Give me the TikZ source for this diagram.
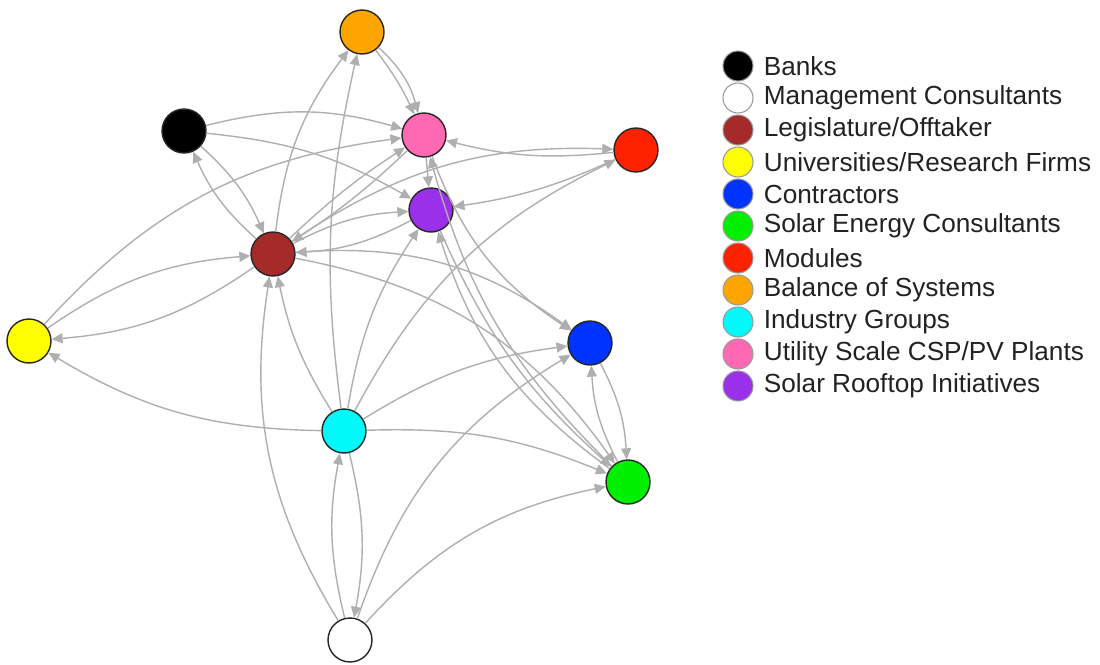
\documentclass[tikz,border=0pt]{standalone}
\usepackage{fontspec}
\setmainfont{Liberation Sans}
\usetikzlibrary{arrows.meta,positioning}
\definecolor{tiegray}{RGB}{175,175,175}
\definecolor{keyink}{RGB}{34,34,34}
\definecolor{cBrown}{RGB}{165,42,42}
\definecolor{cBlue}{RGB}{0,51,255}
\definecolor{cGreen}{RGB}{0,240,0}
\definecolor{cRed}{RGB}{255,34,0}
\definecolor{cOrange}{RGB}{255,165,0}
\definecolor{cCyan}{RGB}{0,250,250}
\definecolor{cYellow}{RGB}{255,255,0}
\definecolor{cPink}{RGB}{255,105,180}
\definecolor{cPurple}{RGB}{155,48,235}
\begin{document}
\begin{tikzpicture}[x=0.02cm, y=0.02cm,
    actor/.style={circle, draw=black!85, line width=0.8pt, minimum size=0.88cm, inner sep=0pt},
    keydot/.style={circle, draw=black!40, line width=0.6pt, minimum size=0.6cm, inner sep=0pt},
    keytext/.style={inner sep=0pt, text=keyink, font=\fontsize{14.9}{17}\selectfont},
    tie/.style={draw=tiegray, line width=0.8pt, -{Triangle[length=0.22cm, width=0.2cm]}}]
    \useasboundingbox (0,0) rectangle (1100,-664);
    % actors
    \node[actor, fill=cOrange] (bos) at (362,-32) {};
    \node[actor, fill=black] (banks) at (184,-131) {};
    \node[actor, fill=cPink] (util) at (424,-135) {};
    \node[actor, fill=cRed] (mod) at (636,-150) {};
    \node[actor, fill=cPurple] (roof) at (431,-210) {};
    \node[actor, fill=cBrown] (legis) at (273,-254) {};
    \node[actor, fill=cYellow] (univ) at (29,-341) {};
    \node[actor, fill=cBlue] (contr) at (590,-343) {};
    \node[actor, fill=cCyan] (ind) at (344,-431) {};
    \node[actor, fill=cGreen] (sec) at (628,-482) {};
    \node[actor, fill=white] (mgmt) at (350,-640) {};
    % ties
    \draw[tie] (banks) to[bend left=15] (util);
    \draw[tie] (banks) to[bend left=12] (roof);
    \draw[tie] (banks) to[bend left=12] (legis);
    \draw[tie] (legis) to[bend left=12] (banks);
    \draw[tie] (bos) to[bend left=6] (util);
    \draw[tie] (bos) to[bend left=16] (util);
    \draw[tie] (legis) to[bend left=15] (bos);
    \draw[tie] (ind) to[bend left=10] (bos);
    \draw[tie] (ind) to[bend left=10] (legis);
    \draw[tie] (mgmt) to[bend left=20] (legis);
    \draw[tie] (mgmt) to[bend left=12] (ind);
    \draw[tie] (ind) to[bend left=12] (mgmt);
    \draw[tie] (mgmt) to[bend left=20] (contr);
    \draw[tie] (mgmt) to[bend left=18] (sec);
    \draw[tie] (ind) to[bend left=12] (contr);
    \draw[tie] (ind) to[bend left=12] (sec);
    \draw[tie] (ind) to[bend left=15] (univ);
    \draw[tie] (ind) to[bend left=12] (roof);
    \draw[tie] (ind) to[bend left=18] (mod);
    \draw[tie] (legis) to[bend left=20] (contr);
    \draw[tie] (legis) to[bend left=22] (sec);
    \draw[tie] (legis) to[bend left=5] (util);
    \draw[tie] (util) to[bend left=5] (legis);
    \draw[tie] (legis) to[bend left=12] (roof);
    \draw[tie] (roof) to[bend left=12] (legis);
    \draw[tie] (univ) to[bend left=15] (legis);
    \draw[tie] (legis) to[bend left=15] (univ);
    \draw[tie] (univ) to[bend left=20] (util);
    \draw[tie] (util) -- (roof);
    \draw[tie] (mod) to[bend left=10] (util);
    \draw[tie] (legis) to[bend left=18] (mod);
    \draw[tie] (mod) to[bend left=8] (roof);
    \draw[tie] (util) to[bend right=18] (contr);
    \draw[tie] (sec) to[bend left=15] (util);
    \draw[tie] (roof) to[bend right=12] (sec);
    \draw[tie] (sec) to[bend left=18] (roof);
    \draw[tie] (contr) to[bend left=12] (sec);
    \draw[tie] (sec) to[bend left=12] (contr);
    % legend
    \node[keydot, fill=black] (kBanks) at (738,-66) {};
    \node[keytext, right=0.2cm of kBanks] {Banks};
    \node[keydot, fill=white] (kMgmt) at (738,-98) {};
    \node[keytext, right=0.2cm of kMgmt] {Management Consultants};
    \node[keydot, fill=cBrown] (kLegis) at (738,-130) {};
    \node[keytext, right=0.2cm of kLegis] {Legislature/Offtaker};
    \node[keydot, fill=cYellow] (kUniv) at (738,-162) {};
    \node[keytext, right=0.2cm of kUniv] {Universities/Research Firms};
    \node[keydot, fill=cBlue] (kContr) at (738,-194) {};
    \node[keytext, right=0.2cm of kContr] {Contractors};
    \node[keydot, fill=cGreen] (kSec) at (738,-226) {};
    \node[keytext, right=0.2cm of kSec] {Solar Energy Consultants};
    \node[keydot, fill=cRed] (kMod) at (738,-258) {};
    \node[keytext, right=0.2cm of kMod] {Modules};
    \node[keydot, fill=cOrange] (kBos) at (738,-290) {};
    \node[keytext, right=0.2cm of kBos] {Balance of Systems};
    \node[keydot, fill=cCyan] (kInd) at (738,-322) {};
    \node[keytext, right=0.2cm of kInd] {Industry Groups};
    \node[keydot, fill=cPink] (kUtil) at (738,-354) {};
    \node[keytext, right=0.2cm of kUtil] {Utility Scale CSP/PV Plants};
    \node[keydot, fill=cPurple] (kRoof) at (738,-386) {};
    \node[keytext, right=0.2cm of kRoof] {Solar Rooftop Initiatives};
\end{tikzpicture}
\end{document}
